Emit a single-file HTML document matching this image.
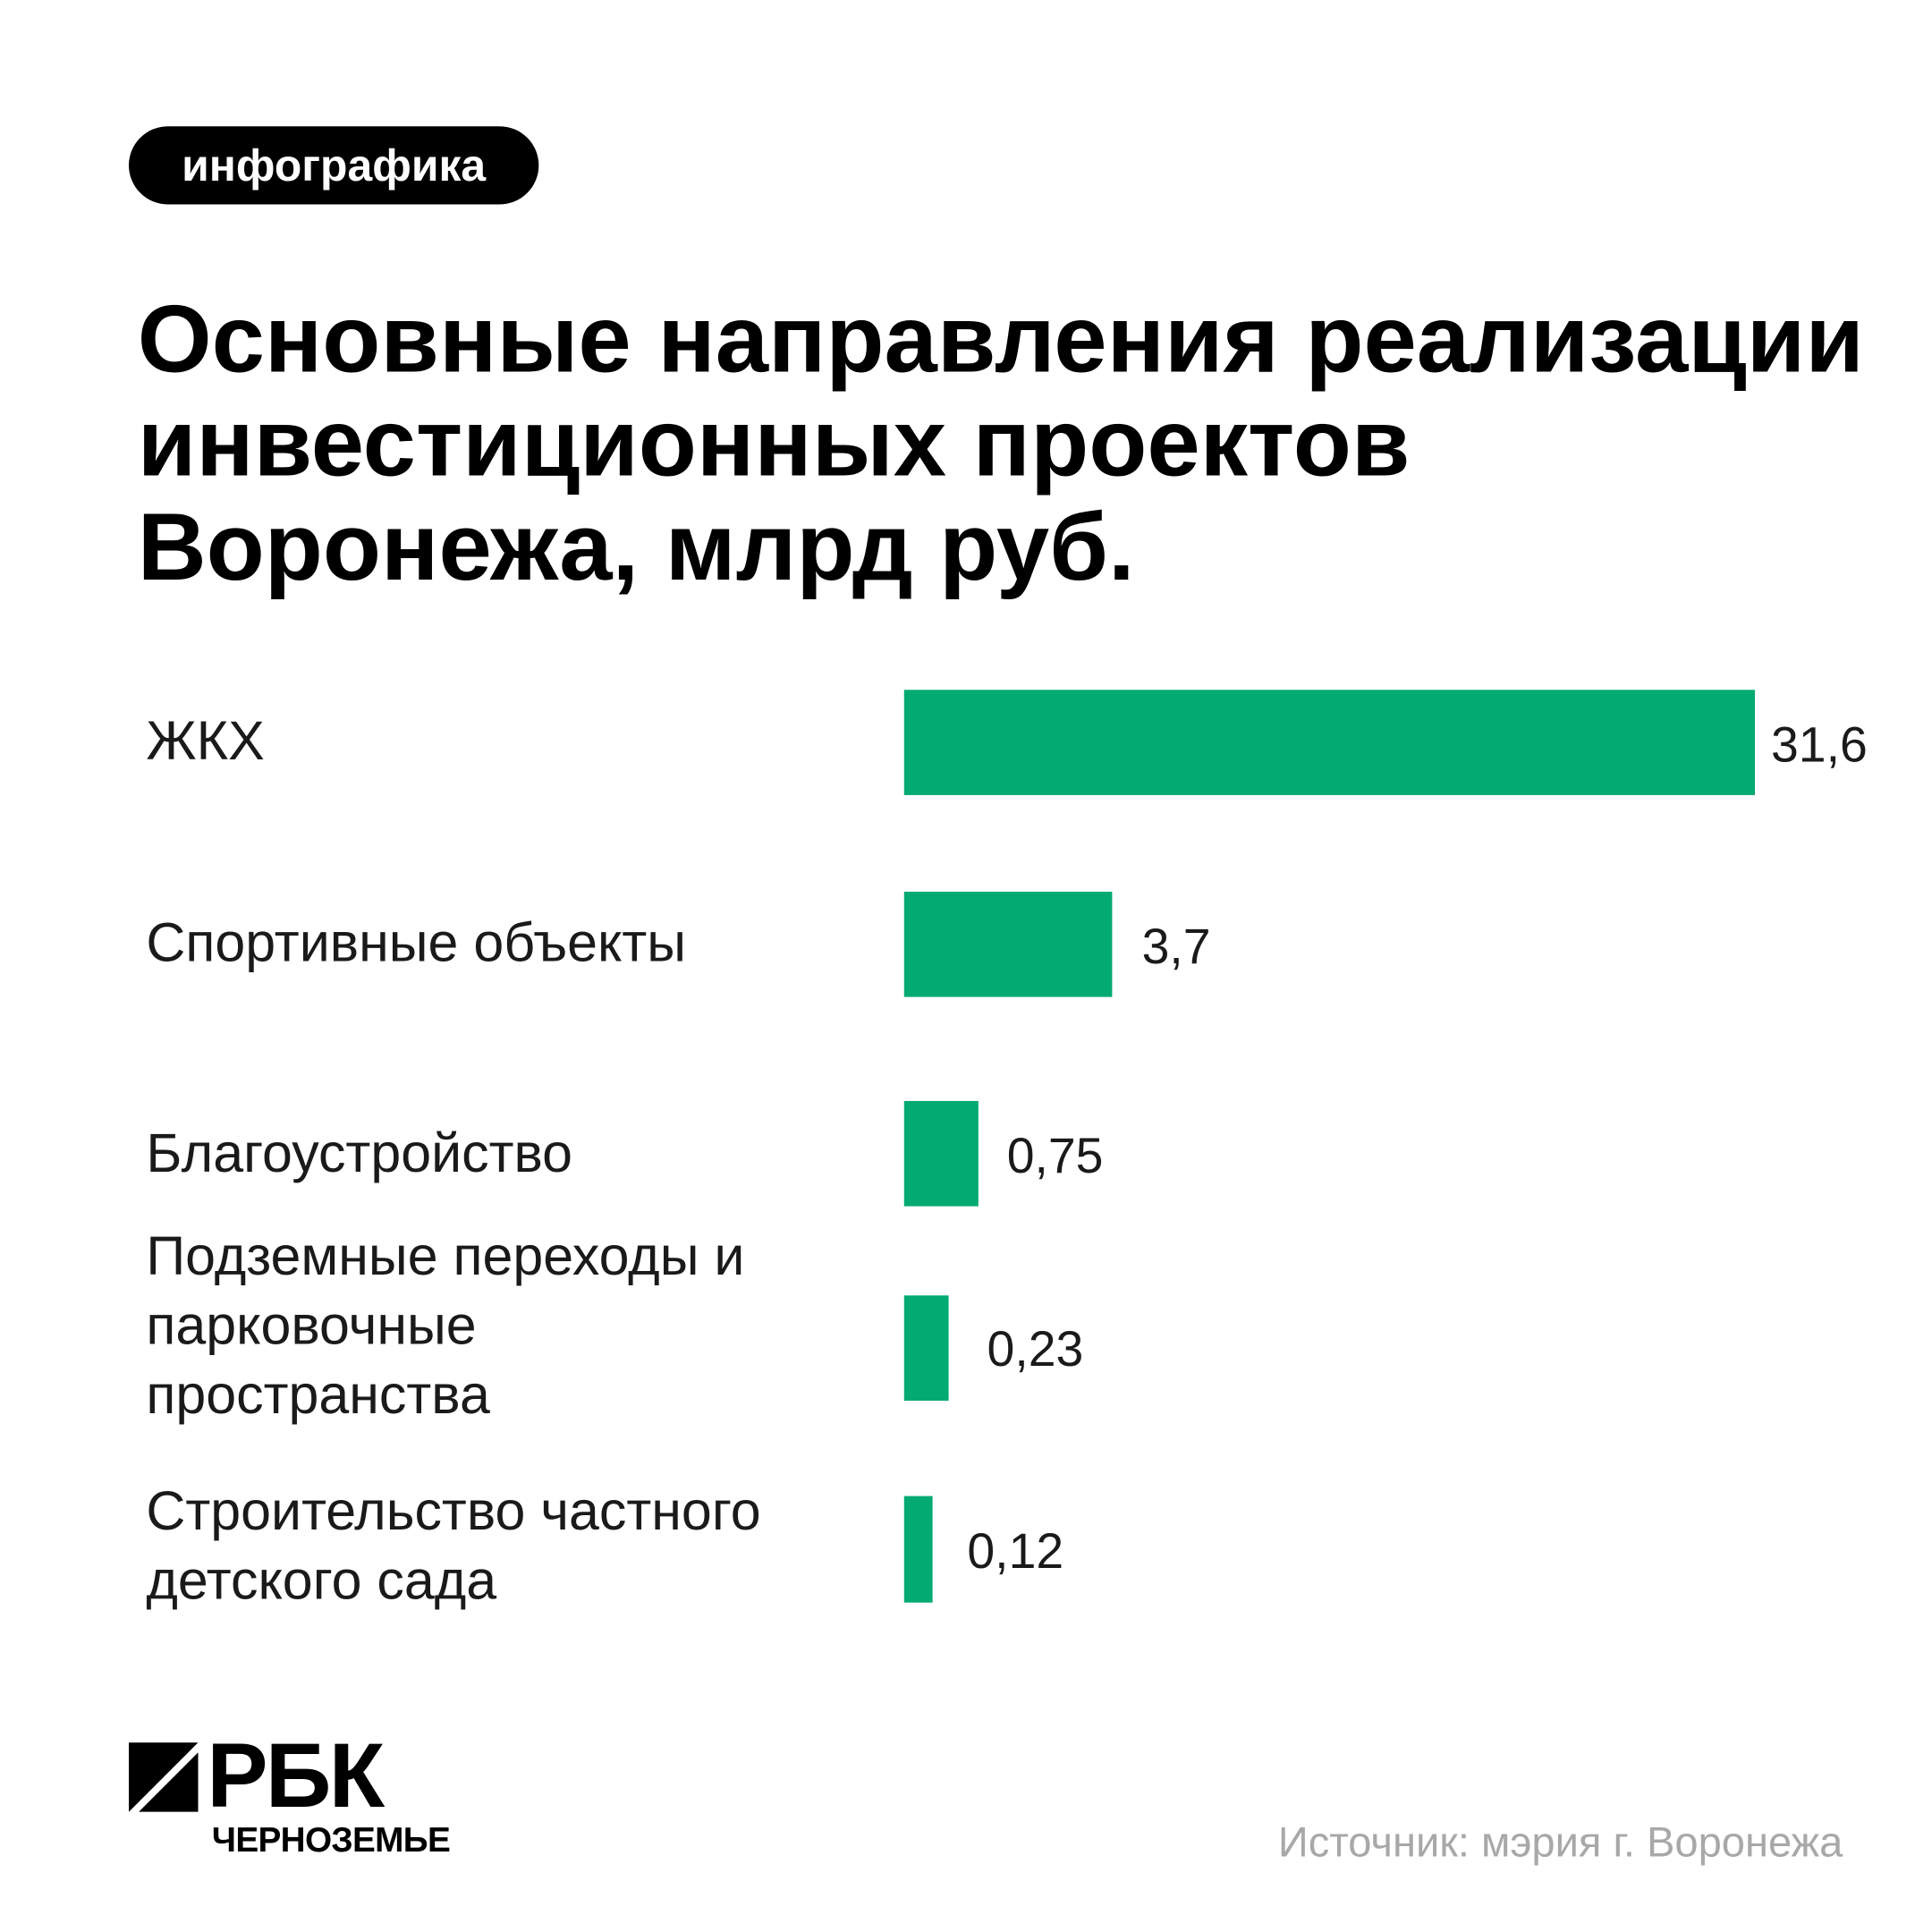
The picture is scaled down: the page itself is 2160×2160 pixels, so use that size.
<!DOCTYPE html>
<html><head><meta charset="utf-8"><style>
html,body{margin:0;padding:0;background:#fff;}
body{width:2160px;height:2160px;overflow:hidden;}
#c{position:absolute;left:0;top:0;width:1560px;height:1560px;transform:scale(1.384615);transform-origin:0 0;font-family:"Liberation Sans",sans-serif;color:#111;}
.a{position:absolute;white-space:nowrap;}
.bar{position:absolute;left:730px;height:85px;background:#03aa72;}
.lab{position:absolute;left:118px;font-size:44px;line-height:56px;color:#1a1a1a;white-space:nowrap;}
.val{position:absolute;font-size:40px;line-height:40px;color:#1a1a1a;}
</style></head><body><div id="c">
<div class="a" style="left:104px;top:102px;width:331px;height:63px;border-radius:32px;background:#000;color:#fff;font-weight:bold;font-size:36px;line-height:63px;text-align:center;">инфографика</div>
<div class="a" style="left:111px;top:232px;font-size:77px;font-weight:bold;line-height:84px;color:#000;">Основные направления реализации<br>инвестиционных проектов<br>Воронежа, млрд руб.</div>

<div class="bar" style="top:557px;width:687px;"></div>
<div class="bar" style="top:720px;width:168px;"></div>
<div class="bar" style="top:889px;width:60px;"></div>
<div class="bar" style="top:1046px;width:36px;"></div>
<div class="bar" style="top:1208px;width:23px;height:86px;"></div>

<div class="lab" style="top:571px;">ЖКХ</div>
<div class="lab" style="top:734px;">Спортивные объекты</div>
<div class="lab" style="top:904px;">Благоустройство</div>
<div class="lab" style="top:987px;">Подземные переходы и<br>парковочные<br>пространства</div>
<div class="lab" style="top:1193px;">Строительство частного<br>детского сада</div>

<div class="val" style="left:1430px;top:582px;">31,6</div>
<div class="val" style="left:922px;top:745px;">3,7</div>
<div class="val" style="left:813px;top:914px;">0,75</div>
<div class="val" style="left:797px;top:1070px;">0,23</div>
<div class="val" style="left:781px;top:1233px;">0,12</div>

<svg class="a" style="left:104px;top:1407px;" width="56" height="56" viewBox="0 0 56 56"><polygon points="0,0 56,0 0,56" fill="#000"/><polygon points="56,8 56,56 8,56" fill="#000"/></svg>
<div class="a" style="left:167px;top:1394px;font-size:74px;font-weight:bold;line-height:80px;color:#000;letter-spacing:-2px;">РБК</div>
<div class="a" style="left:171px;top:1471px;font-size:28px;font-weight:bold;line-height:30px;color:#000;letter-spacing:-0.5px;">ЧЕРНОЗЕМЬЕ</div>
<div class="a" style="right:72px;top:1469px;font-size:34px;line-height:38px;color:#a8a8a8;">Источник: мэрия г. Воронежа</div>
</div></body></html>
